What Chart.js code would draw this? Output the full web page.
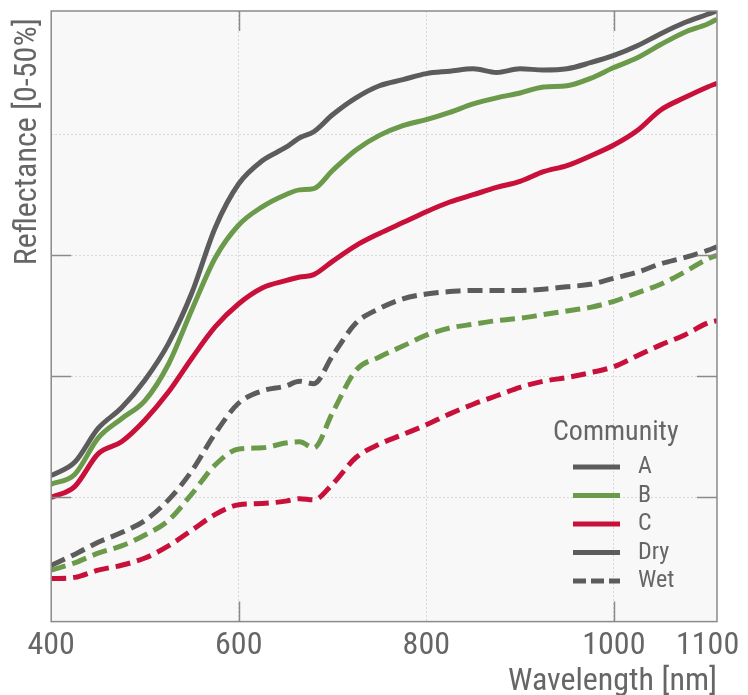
<!DOCTYPE html>
<html lang="en">
<head>
<meta charset="UTF-8">
<title>Reflectance spectra</title>
<style>
  html, body { margin: 0; padding: 0; background: #fff; }
  #wrap { width: 748px; height: 695px; }
</style>
</head>
<body>
<div id="wrap"><canvas id="spectraChart" width="748" height="695"></canvas></div>
<script src="https://cdn.jsdelivr.net/npm/chart.js@4.4.1/dist/chart.umd.min.js"></script>
<script>
// wavelength in nm, reflectance in %
const wavelengths = [400, 425, 450, 475, 500, 525, 550, 575, 600, 625, 650, 665, 680, 700, 725, 750, 775, 800, 825, 850, 875, 900, 925, 950, 975, 1000, 1025, 1050, 1075, 1100, 1110];

const dryA = [11.8, 12.9, 15.7, 17.4, 19.7, 22.7, 26.9, 32.3, 35.9, 37.8, 38.9, 39.7, 40.2, 41.6, 43.0, 44.0, 44.5, 45.0, 45.2, 45.4, 45.1, 45.4, 45.3, 45.4, 45.9, 46.5, 47.3, 48.3, 49.2, 49.9, 50.2];
const dryB = [11.1, 11.9, 14.9, 16.5, 18.0, 21.0, 25.5, 29.8, 32.5, 34.0, 35.0, 35.4, 35.5, 37.0, 38.7, 39.9, 40.7, 41.2, 41.8, 42.5, 43.0, 43.4, 43.9, 44.0, 44.6, 45.5, 46.3, 47.4, 48.4, 49.1, 49.5];
const dryC = [10.0, 10.9, 13.6, 14.6, 16.4, 18.7, 21.5, 24.1, 26.0, 27.3, 27.9, 28.2, 28.4, 29.5, 30.8, 31.8, 32.7, 33.6, 34.4, 35.0, 35.6, 36.1, 36.9, 37.4, 38.2, 39.1, 40.3, 42.0, 43.0, 43.9, 44.2];
const wetA = [4.4, 5.3, 6.3, 7.1, 8.1, 9.8, 12.2, 15.3, 17.8, 18.8, 19.2, 19.6, 19.4, 21.7, 24.4, 25.6, 26.4, 26.8, 27.0, 27.1, 27.1, 27.1, 27.2, 27.4, 27.6, 28.1, 28.6, 29.3, 29.8, 30.4, 30.7];
const wetB = [4.0, 4.6, 5.4, 6.0, 6.9, 8.1, 10.3, 12.7, 14.0, 14.1, 14.5, 14.6, 14.1, 17.0, 20.5, 21.6, 22.5, 23.4, 24.0, 24.3, 24.6, 24.8, 25.1, 25.4, 25.7, 26.2, 26.9, 27.6, 28.6, 29.7, 30.0];
const wetC = [3.3, 3.4, 4.0, 4.4, 5.0, 6.0, 7.3, 8.6, 9.4, 9.5, 9.7, 9.9, 9.8, 11.1, 13.3, 14.4, 15.2, 16.0, 16.9, 17.7, 18.4, 19.1, 19.6, 19.9, 20.3, 20.8, 21.7, 22.6, 23.4, 24.4, 24.6];

const xTickValues = [400, 600, 800, 1000, 1100];
const yGridValues = [10, 20, 30, 40];
const legendTitle = 'Community';
const legendLabels = ['A', 'B', 'C', 'Dry', 'Wet'];

const GREY = '#5c5c5c';
const GREEN = '#6b9a4a';
const RED = '#c8103a';
const TEXT = '#666666';
const FONT = "'Liberation Sans Narrow', 'Roboto Condensed', 'DejaVu Sans Condensed', sans-serif";
const WET_DASH = [15, 7];

const legendStyles = [
  { color: GREY, dash: [] },
  { color: GREEN, dash: [] },
  { color: RED, dash: [] },
  { color: GREY, dash: [] },
  { color: GREY, dash: [13, 5] }
];

function series(label, values, color, dash) {
  return {
    label: label,
    data: wavelengths.map((w, i) => ({ x: w, y: values[i] })),
    borderColor: color,
    borderWidth: 5,
    borderDash: dash,
    pointRadius: 0,
    fill: false,
    cubicInterpolationMode: 'monotone'
  };
}

// background panel, border, inner ticks and the legend
const panelPlugin = {
  id: 'panel',
  beforeDraw(chart) {
    const a = chart.chartArea, ctx = chart.ctx;
    ctx.save();
    ctx.fillStyle = '#f8f8f8';
    ctx.fillRect(a.left, a.top, a.right - a.left, a.bottom - a.top);
    ctx.restore();
  },
  afterDraw(chart) {
    const a = chart.chartArea, ctx = chart.ctx;
    const xs = chart.scales.x, ys = chart.scales.y;
    ctx.save();
    ctx.strokeStyle = '#8a8a8a';
    ctx.lineWidth = 1.5;
    ctx.strokeRect(a.left, a.top, a.right - a.left, a.bottom - a.top);

    ctx.beginPath();
    [600, 1000].forEach(v => {
      const px = Math.round(xs.getPixelForValue(v)) + 0.5;
      ctx.moveTo(px, a.top); ctx.lineTo(px, a.top + 20);
      ctx.moveTo(px, a.bottom); ctx.lineTo(px, a.bottom - 20);
    });
    [10, 20, 30].forEach(v => {
      const py = Math.round(ys.getPixelForValue(v)) + 0.5;
      ctx.moveTo(a.left, py); ctx.lineTo(a.left + 20, py);
      ctx.moveTo(a.right, py); ctx.lineTo(a.right - 20, py);
    });
    ctx.stroke();

    // legend
    const lx = a.right - 144;
    ctx.fillStyle = TEXT;
    ctx.textBaseline = 'middle';
    ctx.textAlign = 'left';
    ctx.font = '28px ' + FONT;
    ctx.fillText(legendTitle, a.right - 164, 433);
    ctx.font = '24px ' + FONT;
    legendLabels.forEach((lab, i) => {
      const y = 467 + i * 28.5;
      ctx.beginPath();
      ctx.setLineDash(legendStyles[i].dash);
      ctx.strokeStyle = legendStyles[i].color;
      ctx.lineWidth = 5;
      ctx.moveTo(lx, y); ctx.lineTo(lx + 47, y);
      ctx.stroke();
      ctx.setLineDash([]);
      ctx.fillText(lab, lx + 65, y);
    });
    ctx.restore();
  }
};

new Chart(document.getElementById('spectraChart'), {
  type: 'line',
  data: {
    datasets: [
      series('A Dry', dryA, GREY, []),
      series('B Dry', dryB, GREEN, []),
      series('C Dry', dryC, RED, []),
      series('A Wet', wetA, GREY, WET_DASH),
      series('B Wet', wetB, GREEN, WET_DASH),
      series('C Wet', wetC, RED, WET_DASH)
    ]
  },
  options: {
    responsive: false,
    animation: false,
    devicePixelRatio: 1,
    layout: { padding: { top: 11, right: 31, bottom: -5, left: 6 } },
    plugins: {
      legend: { display: false },
      tooltip: { enabled: false }
    },
    scales: {
      x: {
        type: 'linear',
        min: 400,
        max: 1110,
        afterBuildTicks: axis => { axis.ticks = xTickValues.map(v => ({ value: v })); },
        grid: {
          drawTicks: false,
          lineWidth: 1,
          color: c => (c.tick && (c.tick.value === 400 || c.tick.value === 1100)) ? 'rgba(0,0,0,0)' : '#d9d9d9'
        },
        border: { display: false, dash: [2, 2] },
        ticks: {
          autoSkip: false,
          maxRotation: 0,
          padding: 8,
          color: TEXT,
          font: { family: FONT, size: 32, lineHeight: 1.0 },
          callback: v => String(v)
        },
        title: {
          display: true,
          text: 'Wavelength [nm]',
          align: 'end',
          color: TEXT,
          font: { family: FONT, size: 32, lineHeight: 0.7625 },
          padding: { top: 0, bottom: 6 }
        }
      },
      y: {
        type: 'linear',
        min: -0.25,
        max: 50.17,
        afterBuildTicks: axis => { axis.ticks = yGridValues.map(v => ({ value: v })); },
        grid: { drawTicks: false, lineWidth: 1, color: '#d9d9d9' },
        border: { display: false, dash: [2, 2] },
        ticks: { display: false },
        title: {
          display: true,
          text: 'Reflectance [0-50%] ',
          align: 'end',
          color: TEXT,
          font: { family: FONT, size: 32, lineHeight: 1.1 },
          padding: { top: 4, bottom: 6 }
        }
      }
    }
  },
  plugins: [panelPlugin]
});
</script>
</body>
</html>
